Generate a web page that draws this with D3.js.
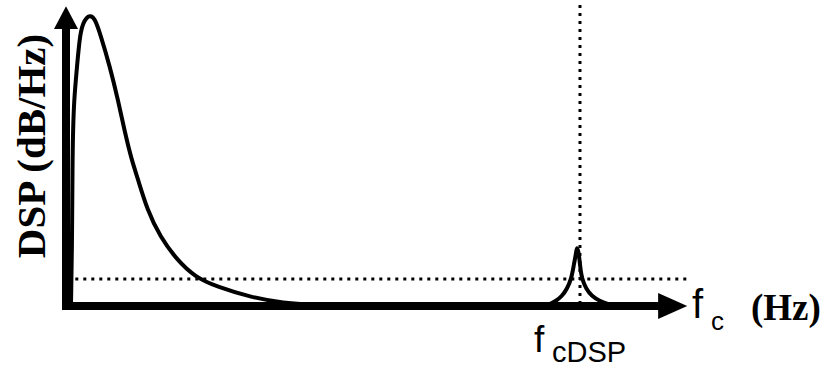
<!DOCTYPE html>
<html>
<head>
<meta charset="utf-8">
<script src="https://d3js.org/d3.v7.min.js"></script>
<style>
body { margin: 0; background: #fff; }
.curve { fill: none; stroke: #000; stroke-width: 4; stroke-linejoin: round; }
.dots { stroke: #000; stroke-width: 3; stroke-dasharray: 3,5; stroke-linecap: butt; }
.axis { stroke: #000; stroke-width: 8; }
</style>
</head>
<body>
<script>
// spectrum (frequency in arbitrary units 0..100, PSD level 0..100)
var mainFreq = [0.8, 0.97, 1.05, 1.13, 1.29, 1.77, 2.26, 2.9, 3.87, 4.68, 5.48, 7.1, 8.39, 9.52, 10.6, 11.5, 13.1, 15.2, 17.9, 20.8, 24.4, 29.7, 35, 40.5, 50.6];
var mainPsd  = [0, 19.3, 50.3, 59.7, 71, 82.4, 94.1, 98.5, 100.5, 99, 94.1, 82.4, 71, 59.7, 50.3, 44.5, 33.1, 23.8, 15.9, 10, 6.6, 3.1, 1, 0.3, 0];

var spikeFreq = [77.3, 78.1, 79.0, 80.0, 80.8, 81.5, 81.9, 82.3, 82.4, 82.7, 82.9, 83.2, 83.9, 84.8, 86.1, 87.4, 88.5];
var spikePsd  = [0, 0.7, 1.7, 3.4, 5.9, 9.3, 14.1, 18.6, 20.6, 18.6, 14.1, 9.3, 5.9, 3.4, 1.7, 0.7, 0];

var noiseFloor = 9.3;   // horizontal dotted level
var fcDSP = 82.9;       // vertical dotted marker

var yLabel = "DSP (dB/Hz)";
var xLabelMain = "f", xLabelSub = "c", xLabelUnit = "(Hz)";
var markMain = "f", markSub = "cDSP";

var width = 822, height = 373;

var x = d3.scaleLinear().domain([0, 100]).range([66, 686]);
var y = d3.scaleLinear().domain([0, 100]).range([306, 16]);

var svg = d3.select("body").append("svg")
    .attr("width", width)
    .attr("height", height);

// axes (no ticks, just arrows)
svg.append("line").attr("class", "axis")
    .attr("x1", x(0) - 4).attr("y1", y(0))
    .attr("x2", x(97)).attr("y2", y(0));
svg.append("path")
    .attr("d", "M" + x(95.5) + "," + (y(0) - 13) + "L" + x(100.2) + "," + y(0) + "L" + x(95.5) + "," + (y(0) + 13) + "Z")
    .attr("fill", "#000");

svg.append("line").attr("class", "axis")
    .attr("x1", x(0)).attr("y1", y(0) + 4)
    .attr("x2", x(0)).attr("y2", y(96));
svg.append("path")
    .attr("d", "M" + (x(0) - 12) + "," + y(95.5) + "L" + x(0) + "," + y(103.4) + "L" + (x(0) + 12) + "," + y(95.5) + "Z")
    .attr("fill", "#000");

// dotted reference lines
svg.append("line").attr("class", "dots")
    .attr("x1", x(1.5)).attr("y1", y(noiseFloor))
    .attr("x2", x(100.3)).attr("y2", y(noiseFloor));
svg.append("line").attr("class", "dots")
    .attr("x1", x(fcDSP)).attr("y1", y(103.8))
    .attr("x2", x(fcDSP)).attr("y2", y(0));

// spectrum curves
var line = d3.line()
    .x(function(d) { return x(d[0]); })
    .y(function(d) { return y(d[1]); })
    .curve(d3.curveBasis);

svg.append("path").attr("class", "curve")
    .attr("d", line(d3.zip(mainFreq, mainPsd)));
svg.append("path").attr("class", "curve")
    .attr("d", line(d3.zip(spikeFreq, spikePsd)));

// y label
svg.append("text")
    .attr("transform", "translate(45,146) rotate(-90)")
    .style("text-anchor", "middle")
    .style("font-family", "Liberation Serif")
    .style("font-weight", "bold")
    .style("font-size", "41px")
    .text(yLabel);

// x label
svg.append("text").attr("x", 692).attr("y", 318)
    .style("font-family", "Liberation Sans").style("font-size", "40px")
    .text(xLabelMain);
svg.append("text").attr("x", 711).attr("y", 330)
    .style("font-family", "Liberation Sans").style("font-size", "26px")
    .text(xLabelSub);
svg.append("text").attr("x", 751).attr("y", 320)
    .style("font-family", "Liberation Serif").style("font-weight", "bold").style("font-size", "37px")
    .text(xLabelUnit);

// fcDSP marker label
svg.append("text").attr("x", 534).attr("y", 352)
    .style("font-family", "Liberation Sans").style("font-size", "37px")
    .text(markMain);
svg.append("text").attr("x", 552).attr("y", 362)
    .style("font-family", "Liberation Sans").style("font-size", "29px")
    .text(markSub);
</script>
</body>
</html>
